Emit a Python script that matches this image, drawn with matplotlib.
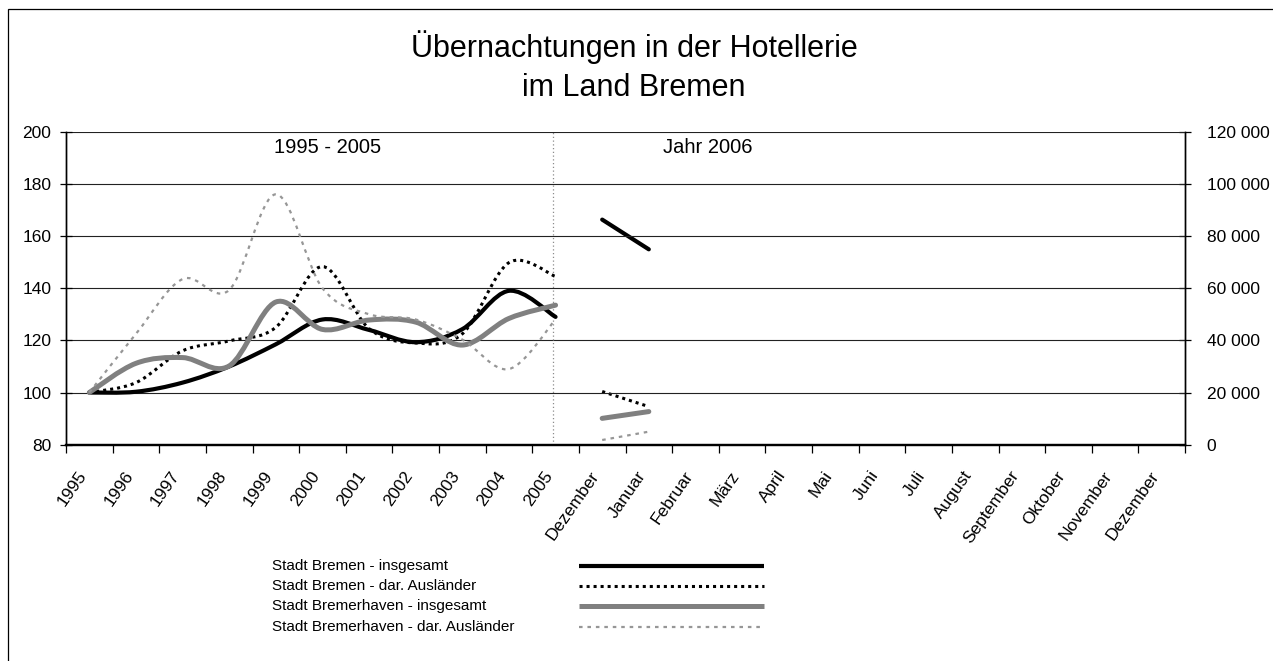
import numpy as np
import matplotlib
matplotlib.use("Agg")
import matplotlib.pyplot as plt
from matplotlib.path import Path
from matplotlib.patches import PathPatch, Rectangle
from matplotlib.lines import Line2D
from matplotlib.ticker import FuncFormatter, MultipleLocator

plt.rcParams['font.family'] = ['Liberation Sans', 'DejaVu Sans']

# ---------------- data ----------------
categories = ['1995', '1996', '1997', '1998', '1999', '2000', '2001', '2002',
              '2003', '2004', '2005', 'Dezember', 'Januar', 'Februar', 'März',
              'April', 'Mai', 'Juni', 'Juli', 'August', 'September', 'Oktober',
              'November', 'Dezember']
years = categories[:11]

# Index 1995 = 100 (left axis)
bremen_insg = [100, 100.3, 103.8, 110, 118.5, 128, 124, 119.3, 124.3, 139, 129]
bremen_ausl = [100, 103.8, 116, 119.8, 125, 148.3, 124.5, 119, 122.5, 149.8, 144.5]
bhv_insg = [100, 111.2, 113.4, 110.2, 134.7, 124.2, 127.8, 127, 118.2, 128.4, 133.5]
bhv_ausl = [100, 122.5, 143.5, 139.3, 176, 140, 130, 128, 120.3, 109, 128]

# Monthly absolute values (right axis): Dezember 2005, Januar 2006
bremen_insg_m = [86300, 74900]
bremen_ausl_m = [20400, 14600]
bhv_insg_m = [10100, 12700]
bhv_ausl_m = [1800, 5000]

series_names = ['Stadt Bremen - insgesamt', 'Stadt Bremen - dar. Ausländer',
                'Stadt Bremerhaven - insgesamt', 'Stadt Bremerhaven - dar. Ausländer']

# ---------------- styles ----------------
styles = [
    dict(color='black', lw=3.0, ls='-', cap='round'),
    dict(color='black', lw=2.2, ls=(0, (1.0, 1.3)), cap='butt'),
    dict(color='#808080', lw=3.6, ls='-', cap='round'),
    dict(color='#969696', lw=1.6, ls=(0, (1.6, 2.2)), cap='butt'),
]

W, H = 1273, 661
fig = plt.figure(figsize=(W / 100, H / 100), dpi=100)
fig.patch.set_facecolor('white')

L, R, T, B = 66, 1185, 131.7, 444.7
ax = fig.add_axes([L / W, 1 - B / H, (R - L) / W, (B - T) / H])
ax2 = ax.twinx()

n = len(categories)
ax.set_xlim(-0.5, n - 0.5)
ax.set_ylim(80, 200)
ax2.set_ylim(0, 120000)

# grid
ax.yaxis.set_major_locator(MultipleLocator(20))
ax2.yaxis.set_major_locator(MultipleLocator(20000))
for v in ax.get_yticks():
    if 80 < v <= 200:
        ax.axhline(v, color='#222222', lw=0.8, zorder=1)


def smooth_path(xs, ys):
    pts = np.column_stack([np.asarray(xs, float), np.asarray(ys, float)])
    m = len(pts)
    verts = [pts[0]]
    codes = [Path.MOVETO]
    for i in range(m - 1):
        p0 = pts[i - 1] if i > 0 else pts[i]
        p1 = pts[i]
        p2 = pts[i + 1]
        p3 = pts[i + 2] if i + 2 < m else pts[i + 1]
        c1 = p1 + (p2 - p0) / 6.0
        c2 = p2 - (p3 - p1) / 6.0
        verts += [c1, c2, p2]
        codes += [Path.CURVE4] * 3
    return Path(verts, codes)


year_x = np.arange(len(years))
month_x = np.array([categories.index('Dezember'), categories.index('Januar')])

for vals, st in zip([bremen_insg, bremen_ausl, bhv_insg, bhv_ausl], styles):
    patch = PathPatch(smooth_path(year_x, vals), fill=False, edgecolor=st['color'],
                      lw=st['lw'], linestyle=st['ls'], capstyle=st['cap'],
                      joinstyle='round', transform=ax.transData, zorder=3)
    ax.add_patch(patch)

for vals, st in zip([bremen_insg_m, bremen_ausl_m, bhv_insg_m, bhv_ausl_m], styles):
    ax2.plot(month_x, vals, color=st['color'], lw=st['lw'], ls=st['ls'],
             solid_capstyle=st['cap'], dash_capstyle='butt', zorder=3)

# separator between the two periods
ax.axvline(9.94, color='#8c8c8c', lw=0.9, ls=(0, (1, 2)), zorder=2)

# ticks and labels
ax.set_xticks(np.arange(n))
ax.set_xticklabels(categories, rotation=55, ha='right', va='top', fontsize=12.5)
ax.set_xticks(np.arange(-0.5, n, 1.0), minor=True)
ax.tick_params(axis='x', which='major', length=0, pad=17)
ax.tick_params(axis='x', which='minor', length=5.5, width=0.9, direction='out')
ax.tick_params(axis='y', direction='inout', length=9, width=0.9, labelsize=12.5, pad=6)
ax2.tick_params(axis='y', direction='inout', length=9, width=0.9, labelsize=12.5, pad=11)
ax2.yaxis.set_major_formatter(FuncFormatter(lambda v, p: f"{int(v):,}".replace(',', ' ')))
ax.yaxis.set_major_formatter(FuncFormatter(lambda v, p: f"{int(v)}"))

for a in (ax, ax2):
    a.spines['top'].set_visible(False)
    a.spines['left'].set_linewidth(1.0)
    a.spines['right'].set_linewidth(1.0)
    a.spines['bottom'].set_linewidth(1.6)
ax.set_zorder(ax2.get_zorder() + 1)
ax.patch.set_visible(False)

# period captions
fig.text(328 / W, 1 - 153 / H, '1995 - 2005', ha='center', va='baseline', fontsize=14.5)
fig.text(708 / W, 1 - 153 / H, 'Jahr 2006', ha='center', va='baseline', fontsize=14.5)

# title
fig.text(634 / W, 1 - 57 / H, 'Übernachtungen in der Hotellerie', ha='center',
         va='baseline', fontsize=22)
fig.text(634 / W, 1 - 96 / H, 'im Land Bremen', ha='center', va='baseline', fontsize=22)

# legend (manual)
rows_y = [566, 586, 606, 627]
for name, st, yy in zip(series_names, styles, rows_y):
    fig.text(272 / W, 1 - yy / H, name, ha='left', va='center', fontsize=11)
    fig.add_artist(Line2D([579 / W, 764 / W], [1 - yy / H, 1 - yy / H],
                          transform=fig.transFigure, color=st['color'],
                          lw=st['lw'], ls=st['ls'],
                          solid_capstyle='butt', dash_capstyle='butt'))

# chart frame (extends beyond the crop at right and bottom)
fig.add_artist(Rectangle((8 / W, -0.1), 1.2, 1 - 9 / H + 0.1, transform=fig.transFigure,
                         fill=False, edgecolor='black', lw=0.9))

fig.savefig('out.png', dpi=100, facecolor='white')
